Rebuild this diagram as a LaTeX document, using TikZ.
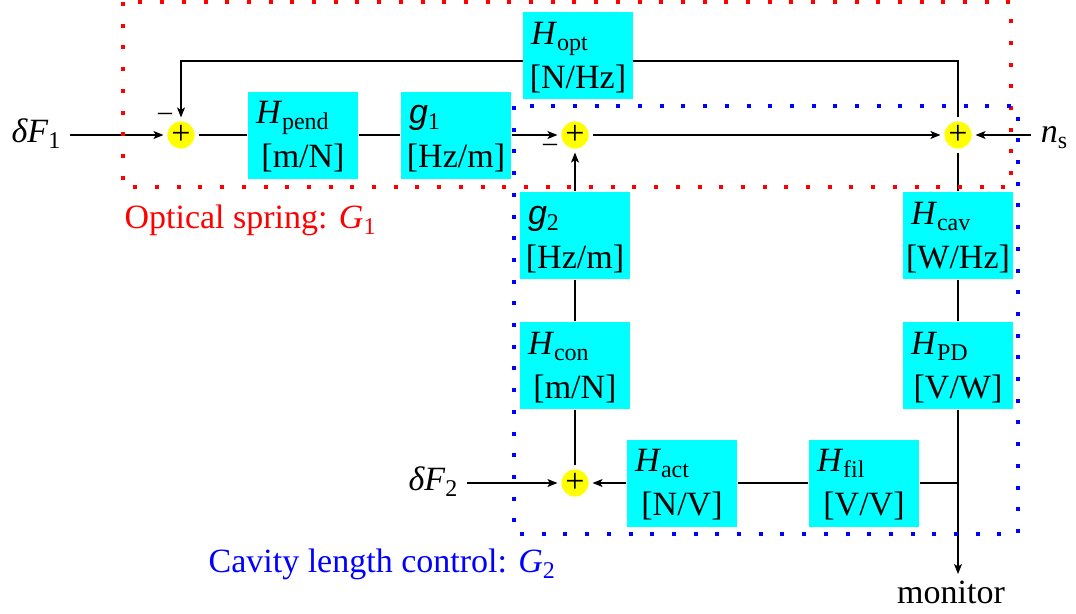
\documentclass[tikz,border=0pt]{standalone}
\usepackage{fontspec}
\setmainfont{Liberation Serif}
\newfontfamily\gsans{Liberation Sans}
\usetikzlibrary{arrows.meta}
\definecolor{boxcyan}{RGB}{0,255,255}
\definecolor{sumyellow}{RGB}{255,255,0}
% variable with upright lowered index
\newcommand{\varsub}[2]{\textit{#1}\raisebox{-6pt}{\fontsize{24}{24}\selectfont #2}}
\newcommand{\gvar}[1]{{\gsans\itshape g}\raisebox{-6pt}{\fontsize{24}{24}\selectfont #1}}
% block: name, centre, first line, unit
\newcommand{\blk}[4]{%
  \node[blk] (#1) at (#2) {};
  \node[txt, anchor=base west] (#1-a) at ([shift={(8pt,-33pt)}]#1.north west) {#3};
  \node[txt, anchor=base] (#1-b) at ([yshift=-77pt]#1.north) {#4};}
\begin{document}
\begin{tikzpicture}[x=1pt, y=-1pt, font=\fontsize{34}{40}\selectfont,
    >={Stealth[length=10pt,width=8pt,inset=2.5pt]}, line width=1.2pt,
    blk/.style={fill=boxcyan, minimum width=110pt, minimum height=87pt, inner sep=0pt},
    sum/.style={circle, fill=sumyellow, minimum size=27pt, inner sep=0pt, outer sep=4pt},
    txt/.style={inner sep=0pt},
    minus/.style={inner sep=0pt, font=\fontsize{28}{28}\selectfont},
    lbl/.style={inner ysep=0pt, inner xsep=9pt, text height=22pt, text depth=8pt},
    dots/.style={line width=4pt, dash pattern=on 4pt off 17.7pt}]
    \useasboundingbox (0,0) rectangle (1076,613);

    % summing points
    \node[sum] (s1) at (181,135) {+};
    \node[sum] (s2) at (575,135) {+};
    \node[sum] (s3) at (958,135) {+};
    \node[sum] (s4) at (575,483) {+};
    \node[minus] (m1) at (165,117) {–};
    \node[minus] (m2) at (550,148) {–};

    % optical feedback path
    \coordinate (fbr) at (958,61);
    \coordinate (fbl) at (181,61);
    \draw[->] (s3) -- (fbr) -- (fbl) -- (s1);

    % blocks
    \blk{hopt}{578,55.5}{\varsub{H}{opt}}{[N/Hz]}
    \blk{hpend}{303,135}{\varsub{H}{pend}}{[m/N]}
    \blk{g1}{456,135}{\gvar{1}}{[Hz/m]}
    \blk{g2}{575,235.5}{\gvar{2}}{[Hz/m]}
    \blk{hcon}{575,365.5}{\varsub{H}{con}}{[m/N]}
    \blk{hcav}{958,235.5}{\varsub{H}{cav}}{[W/Hz]}
    \blk{hpd}{958,365.5}{\varsub{H}{PD}}{[V/W]}
    \blk{hact}{682,483}{\varsub{H}{act}}{[N/V]}
    \blk{hfil}{864,483}{\varsub{H}{fil}}{[V/V]}

    % inputs and output
    \node[lbl] (df1) at (36,135) {\varsub{δF}{1}};
    \node[lbl] (df2) at (433,483) {\varsub{δF}{2}};
    \node[lbl] (ns) at (1054,135) {\varsub{n}{s}};
    \coordinate (jn) at (958,483);
    \coordinate (monend) at (958,574);
    \node[txt, anchor=base] (mon) at (951,603) {monitor};

    % signal lines
    \draw[->] (df1) -- (s1);
    \draw (s1) -- (hpend);
    \draw (hpend) -- (g1);
    \draw[->] (g1) -- (s2);
    \draw[->] (s2) -- (s3);
    \draw[->] (ns) -- (s3);
    \draw (s3) -- (hcav);
    \draw (hcav) -- (hpd);
    \draw (hpd) -- (jn);
    \draw[->] (jn) -- (monend);
    \draw (jn) -- (hfil);
    \draw (hfil) -- (hact);
    \draw[->] (hact) -- (s4);
    \draw[->] (df2) -- (s4);
    \draw (s4) -- (hcon);
    \draw (hcon) -- (g2);
    \draw[->] (g2) -- (s2);

    % loop outlines
    \draw[red, dots] (123,2) rectangle (1011,187);
    \draw[blue, dots] (514,106) rectangle (1018,534);
    \node[txt, red, anchor=base west] (lab1) at (124,228) {Optical spring: \varsub{G}{1}};
    \node[txt, blue, anchor=base west] (lab2) at (208,572) {Cavity length control: \varsub{G}{2}};
\end{tikzpicture}
\end{document}
